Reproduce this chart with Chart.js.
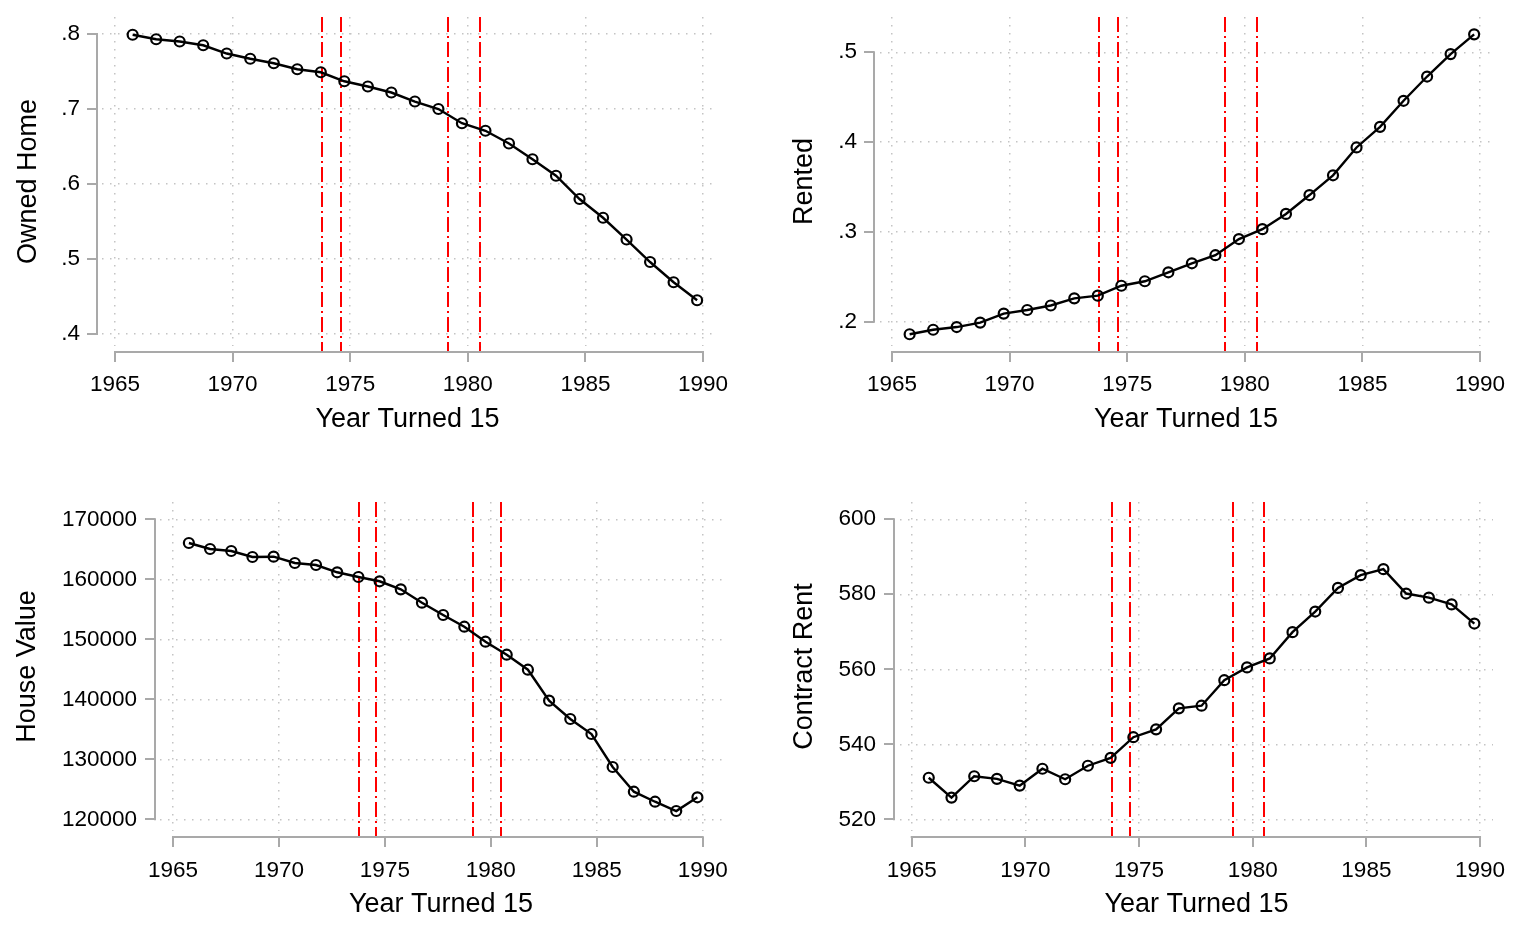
<!DOCTYPE html>
<html>
<head>
<meta charset="utf-8">
<title>Housing by year turned 15</title>
<script src="https://cdn.jsdelivr.net/npm/chart.js@4.4.0/dist/chart.umd.min.js"></script>
<style>
    html, body { margin: 0; padding: 0; background: #fff; }
    #wrap { position: relative; width: 1522px; height: 932px; }
    canvas { position: absolute; }
</style>
</head>
<body>
<div id="wrap">
    <canvas id="ownedChart" width="761" height="466" style="left:0;top:0"></canvas>
    <canvas id="rentedChart" width="761" height="466" style="left:761px;top:0"></canvas>
    <canvas id="valueChart" width="761" height="466" style="left:0;top:466px"></canvas>
    <canvas id="rentChart" width="761" height="466" style="left:761px;top:466px"></canvas>
</div>
<script>
// x positions of the cohorts as plotted
const years = [1965.75, 1966.75, 1967.75, 1968.75, 1969.75, 1970.75, 1971.75, 1972.75, 1973.75,
    1974.75, 1975.75, 1976.75, 1977.75, 1978.75, 1979.75, 1980.75, 1981.75, 1982.75,
    1983.75, 1984.75, 1985.75, 1986.75, 1987.75, 1988.75, 1989.75];

const ownedHome = [0.799, 0.793, 0.790, 0.785, 0.774, 0.767, 0.761, 0.753, 0.749, 0.737,
    0.730, 0.722, 0.710, 0.700, 0.681, 0.671, 0.654, 0.633, 0.611, 0.580, 0.555, 0.526,
    0.496, 0.469, 0.445];

const rented = [0.186, 0.191, 0.194, 0.199, 0.209, 0.213, 0.218, 0.226, 0.229, 0.240,
    0.245, 0.255, 0.265, 0.274, 0.292, 0.303, 0.320, 0.341, 0.363, 0.394, 0.417, 0.446,
    0.473, 0.498, 0.520];

const houseValue = [166050, 165050, 164720, 163720, 163770, 162720, 162380, 161170, 160380,
    159670, 158330, 156100, 154050, 152100, 149600, 147430, 144930, 139770, 136720, 134220,
    128720, 124600, 122930, 121380, 123670];

const contractRent = [531.1, 525.8, 531.5, 530.8, 529.0, 533.5, 530.7, 534.3, 536.4, 541.9,
    544.0, 549.6, 550.3, 557.1, 560.5, 562.9, 569.9, 575.4, 581.7, 585.1, 586.7, 580.2,
    579.1, 577.3, 572.2];

// red reference lines
const breakYears = [1973.8, 1974.6, 1979.15, 1980.5];

const xTicks = [1965, 1970, 1975, 1980, 1985, 1990];
const ownedTicks = [0.4, 0.5, 0.6, 0.7, 0.8];
const rentedTicks = [0.2, 0.3, 0.4, 0.5];
const valueTicks = [120000, 130000, 140000, 150000, 160000, 170000];
const rentTicks = [520, 540, 560, 580, 600];

const FONT = "'Liberation Sans', Arial, sans-serif";
const AXIS_GREY = '#a9a9a9';

// draws stata-style axes (offset from the plot region) and the red dash-dot lines
function stataPlugin(p) {
    return {
        id: 'stata_' + p.id,
        beforeDatasetsDraw(chart) {
            const { ctx, chartArea, scales } = chart;
            const xAxisY = chartArea.bottom + p.xGap;
            ctx.save();
            ctx.strokeStyle = '#ff0000';
            ctx.lineWidth = 2;
            ctx.setLineDash([15, 4, 2, 4]);
            breakYears.forEach(yr => {
                const px = Math.round(scales.x.getPixelForValue(yr));
                ctx.beginPath();
                ctx.moveTo(px, chartArea.top);
                ctx.lineTo(px, xAxisY);
                ctx.stroke();
            });
            ctx.restore();
        },
        afterDraw(chart) {
            const { ctx, chartArea, scales } = chart;
            const xAxisY = chartArea.bottom + p.xGap;
            const yAxisX = chartArea.left - p.yGap;
            ctx.save();
            ctx.strokeStyle = AXIS_GREY;
            ctx.lineWidth = 2;
            ctx.lineCap = 'butt';
            // y axis
            const yTop = scales.y.getPixelForValue(p.yTicks[p.yTicks.length - 1]);
            const yBot = scales.y.getPixelForValue(p.yTicks[0]);
            ctx.beginPath();
            ctx.moveTo(yAxisX, yTop - 1);
            ctx.lineTo(yAxisX, yBot + 1);
            p.yTicks.forEach(v => {
                const py = Math.round(scales.y.getPixelForValue(v));
                ctx.moveTo(yAxisX, py);
                ctx.lineTo(yAxisX - 10, py);
            });
            ctx.stroke();
            // x axis
            const xL = scales.x.getPixelForValue(xTicks[0]);
            const xR = scales.x.getPixelForValue(xTicks[xTicks.length - 1]);
            ctx.beginPath();
            ctx.moveTo(xL - 1, xAxisY);
            ctx.lineTo(xR + 1, xAxisY);
            xTicks.forEach(v => {
                const px = Math.round(scales.x.getPixelForValue(v));
                ctx.moveTo(px, xAxisY);
                ctx.lineTo(px, xAxisY + 10);
            });
            ctx.stroke();
            ctx.restore();
        }
    };
}

function makePanel(p) {
    const ctx = document.getElementById(p.id).getContext('2d');
    const points = years.map((yr, i) => ({ x: yr, y: p.values[i] }));
    return new Chart(ctx, {
        type: 'line',
        data: {
            datasets: [{
                label: p.title,
                data: points,
                borderColor: '#000',
                borderWidth: 2.4,
                pointRadius: 5,
                pointBorderWidth: 2.2,
                pointBorderColor: '#000',
                pointBackgroundColor: 'rgba(0,0,0,0)',
                tension: 0
            }]
        },
        options: {
            responsive: false,
            animation: false,
            devicePixelRatio: 1,
            layout: { padding: { left: 0, right: p.padRight, top: p.padTop, bottom: 0 } },
            plugins: { legend: { display: false }, tooltip: { enabled: false } },
            scales: {
                x: {
                    type: 'linear',
                    min: p.xMin,
                    max: p.xMax,
                    afterBuildTicks: scale => { scale.ticks = xTicks.map(v => ({ value: v })); },
                    afterFit: scale => { scale.height = p.xHeight; },
                    // invisible tick marks are used only to push the labels away from the plot
                    grid: { color: '#c4c4c4', lineWidth: 1.5, drawTicks: true, tickLength: p.xTickPad, tickColor: 'rgba(0,0,0,0)' },
                    border: { display: false, dash: [1.5, 6.5] },
                    ticks: {
                        autoSkip: false,
                        maxRotation: 0,
                        padding: 0,
                        color: '#000',
                        font: { family: FONT, size: 22.5 },
                        callback: v => String(v)
                    },
                    title: {
                        display: true,
                        text: 'Year Turned 15',
                        color: '#000',
                        font: { family: FONT, size: 27 },
                        padding: { top: 0, bottom: p.xTitlePad }
                    }
                },
                y: {
                    type: 'linear',
                    min: p.yMin,
                    max: p.yMax,
                    afterBuildTicks: scale => { scale.ticks = p.yTicks.map(v => ({ value: v })); },
                    afterFit: scale => { scale.width = p.yWidth; },
                    grid: { color: '#c4c4c4', lineWidth: 1.5, drawTicks: true, tickLength: p.yTickPad, tickColor: 'rgba(0,0,0,0)' },
                    border: { display: false, dash: [1.5, 6.5] },
                    ticks: {
                        autoSkip: false,
                        padding: 0,
                        color: '#000',
                        font: { family: FONT, size: 22.5 },
                        callback: p.fmt
                    },
                    title: {
                        display: true,
                        text: p.title,
                        color: '#000',
                        font: { family: FONT, size: 27 },
                        padding: { top: p.yTitlePad, bottom: 0 }
                    }
                }
            }
        },
        plugins: [stataPlugin(p)]
    });
}

const shareFmt = v => v.toFixed(1).replace(/^0/, '');
const plainFmt = v => String(Math.round(v));

makePanel({
    id: 'ownedChart', title: 'Owned Home', values: ownedHome, yTicks: ownedTicks, fmt: shareFmt,
    xMin: 1964.447, xMax: 1990.425, yMin: 0.384, yMax: 0.8227,
    yWidth: 102, xHeight: 120, padTop: 17, padRight: 48,
    xGap: 6, yGap: 5, xTickPad: 25, xTitlePad: 30, yTickPad: 22, yTitlePad: 12
});

makePanel({
    id: 'rentedChart', title: 'Rented', values: rented, yTicks: rentedTicks, fmt: shareFmt,
    xMin: 1964.49, xMax: 1990.51, yMin: 0.1729, yMax: 0.5393,
    yWidth: 119, xHeight: 120, padTop: 17, padRight: 30,
    xGap: 6, yGap: 6, xTickPad: 25, xTitlePad: 30, yTickPad: 23, yTitlePad: 27
});

makePanel({
    id: 'valueChart', title: 'House Value', values: houseValue, yTicks: valueTicks, fmt: plainFmt,
    xMin: 1964.387, xMax: 1990.91, yMin: 118050, yMax: 172883,
    yWidth: 160, xHeight: 101, padTop: 36, padRight: 39,
    xGap: 6, yGap: 5, xTickPad: 26, xTitlePad: 11, yTickPad: 23, yTitlePad: 11
});

makePanel({
    id: 'rentChart', title: 'Contract Rent', values: contractRent, yTicks: rentTicks, fmt: plainFmt,
    xMin: 1964.485, xMax: 1990.57, yMin: 516.9, yMax: 604.6,
    yWidth: 139, xHeight: 101, padTop: 36, padRight: 29,
    xGap: 6, yGap: 6, xTickPad: 26, xTitlePad: 11, yTickPad: 24, yTitlePad: 27
});
</script>
</body>
</html>
